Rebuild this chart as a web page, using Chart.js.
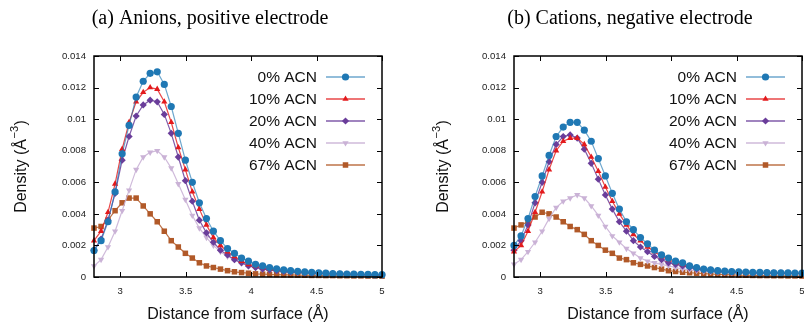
<!DOCTYPE html>
<html>
<head>
<meta charset="utf-8">
<script src="https://cdn.jsdelivr.net/npm/chart.js"></script>
<style>
  body { margin: 0; width: 804px; height: 323px; overflow: hidden; background: #fff; position: relative; }
  canvas { position: absolute; top: 0; }
  #chartA { left: 0; }
  #chartB { left: 420px; }
</style>
</head>
<body>
<canvas id="chartA" width="400" height="323"></canvas>
<canvas id="chartB" width="400" height="323"></canvas>
<script>
// ── DATA ──
const distances = [2.8, 2.854, 2.907, 2.961, 3.015, 3.068, 3.122, 3.176, 3.229, 3.283, 3.337, 3.39, 3.444, 3.498,
  3.551, 3.605, 3.659, 3.712, 3.766, 3.82, 3.873, 3.927, 3.98, 4.034, 4.088, 4.141, 4.195, 4.249, 4.302, 4.356,
  4.41, 4.463, 4.517, 4.571, 4.624, 4.678, 4.732, 4.785, 4.839, 4.893, 4.946, 5.0];

const seriesLabels = ['0% ACN', '10% ACN', '20% ACN', '40% ACN', '67% ACN'];
const xTicks = [3, 3.5, 4, 4.5, 5];
const yTicks = [0, 0.002, 0.004, 0.006, 0.008, 0.01, 0.012, 0.014];
const titleA = '(a) Anions, positive electrode';
const titleB = '(b) Cations, negative electrode';

// (a) anions, positive electrode
const anion0 = [0.00168, 0.0023, 0.0035, 0.0054, 0.0078, 0.0096, 0.0114, 0.0124, 0.0129, 0.0130, 0.0122, 0.0108, 0.0091, 0.0074,
  0.0060, 0.0047, 0.0037, 0.0029, 0.0023, 0.0018, 0.0015, 0.0012, 0.0010, 0.0008, 0.0007, 0.0006, 0.00052, 0.00045, 0.0004, 0.00036,
  0.00032, 0.0003, 0.00027, 0.00024, 0.00022, 0.0002, 0.00019, 0.00018, 0.00017, 0.00016, 0.00015, 0.00015];
const anion10 = [0.0023, 0.0029, 0.0041, 0.0059, 0.0081, 0.0098, 0.0111, 0.0117, 0.0120, 0.0119, 0.0111, 0.0098, 0.0082, 0.0068,
  0.0054, 0.0043, 0.0033, 0.0025, 0.0020, 0.0016, 0.0013, 0.0010, 0.0008, 0.0007, 0.0006, 0.0005, 0.00045, 0.0004, 0.00035, 0.00032,
  0.0003, 0.00027, 0.00025, 0.00023, 0.00021, 0.0002, 0.00018, 0.00017, 0.00016, 0.00015, 0.00014, 0.00013];
const anion20 = [0.0017, 0.0024, 0.0036, 0.0053, 0.0074, 0.0089, 0.0102, 0.0109, 0.0112, 0.0111, 0.0103, 0.0091, 0.0076, 0.0061,
  0.0048, 0.0036, 0.0028, 0.0022, 0.0017, 0.0014, 0.0011, 0.0009, 0.0007, 0.0006, 0.0005, 0.00045, 0.0004, 0.00035, 0.00032, 0.0003,
  0.00027, 0.00025, 0.00023, 0.00021, 0.0002, 0.00019, 0.00017, 0.00016, 0.00015, 0.00014, 0.00013, 0.00013];
const anion40 = [0.0007, 0.0011, 0.0019, 0.0029, 0.0042, 0.0055, 0.0068, 0.0076, 0.0079, 0.0080, 0.0076, 0.0069, 0.0059, 0.0049,
  0.0039, 0.0031, 0.0025, 0.0020, 0.0016, 0.0013, 0.0011, 0.0009, 0.0007, 0.0006, 0.0005, 0.00045, 0.0004, 0.00035, 0.00031, 0.00028,
  0.00025, 0.00023, 0.00021, 0.0002, 0.00018, 0.00017, 0.00016, 0.00015, 0.00014, 0.00013, 0.00012, 0.00012];
const anion67 = [0.0031, 0.0032, 0.0036, 0.0042, 0.0047, 0.0050, 0.0050, 0.0045, 0.0040, 0.0035, 0.0029, 0.0023, 0.0019, 0.0015,
  0.0012, 0.0009, 0.0007, 0.0006, 0.0005, 0.0004, 0.00033, 0.00028, 0.00024, 0.0002, 0.00018, 0.00016, 0.00015, 0.00014, 0.00013, 0.00012,
  0.00011, 0.0001, 0.0001, 0.00009, 0.00009, 0.00008, 0.00008, 0.00007, 0.00007, 0.00006, 0.00006, 0.00005];

// (b) cations, negative electrode
const cation0 = [0.0020, 0.0026, 0.0037, 0.0051, 0.0064, 0.0077, 0.0089, 0.0095, 0.0098, 0.0098, 0.0093, 0.0086, 0.0075, 0.0064,
  0.0053, 0.0043, 0.0035, 0.0030, 0.0025, 0.0021, 0.0017, 0.0014, 0.0012, 0.0010, 0.0009, 0.0007, 0.0006, 0.0005, 0.00045, 0.0004,
  0.00037, 0.00035, 0.00033, 0.00031, 0.0003, 0.00029, 0.00028, 0.00027, 0.00026, 0.00026, 0.00025, 0.00025];
const cation10 = [0.0016, 0.0020, 0.0029, 0.0041, 0.0054, 0.0068, 0.0080, 0.0086, 0.0088, 0.0088, 0.0084, 0.0076, 0.0067, 0.0057,
  0.0048, 0.0040, 0.0033, 0.0027, 0.0023, 0.0019, 0.0016, 0.0013, 0.0011, 0.0009, 0.0008, 0.0007, 0.0006, 0.0005, 0.00045, 0.0004,
  0.00036, 0.00033, 0.00031, 0.0003, 0.00028, 0.00027, 0.00026, 0.00025, 0.00024, 0.00024, 0.00023, 0.00023];
const cation20 = [0.0017, 0.0023, 0.0033, 0.0047, 0.0060, 0.0073, 0.0084, 0.0089, 0.0090, 0.0088, 0.0081, 0.0072, 0.0062, 0.0052,
  0.0043, 0.0035, 0.0029, 0.0023, 0.0019, 0.0016, 0.0013, 0.0011, 0.0009, 0.0008, 0.0007, 0.0006, 0.0005, 0.00045, 0.0004, 0.00036,
  0.00033, 0.00031, 0.00029, 0.00028, 0.00027, 0.00026, 0.00025, 0.00024, 0.00024, 0.00023, 0.00023, 0.00022];
const cation40 = [0.0008, 0.0011, 0.0016, 0.0022, 0.0029, 0.0037, 0.0044, 0.0048, 0.0050, 0.0052, 0.0050, 0.0045, 0.0039, 0.0032,
  0.0026, 0.0022, 0.0018, 0.0015, 0.0012, 0.0010, 0.0009, 0.0008, 0.0007, 0.0006, 0.0005, 0.00045, 0.0004, 0.00036, 0.00033, 0.0003,
  0.00028, 0.00026, 0.00025, 0.00024, 0.00023, 0.00022, 0.00022, 0.00021, 0.00021, 0.0002, 0.0002, 0.0002];
const cation67 = [0.0031, 0.0033, 0.0035, 0.0038, 0.0041, 0.0040, 0.0038, 0.0035, 0.0032, 0.0030, 0.0027, 0.0023, 0.0020, 0.0017,
  0.0015, 0.0012, 0.0011, 0.0009, 0.0008, 0.0007, 0.0006, 0.0005, 0.0004, 0.00035, 0.0003, 0.00027, 0.00024, 0.00021, 0.00019, 0.00017,
  0.00015, 0.00014, 0.00012, 0.00011, 0.0001, 0.00009, 0.00009, 0.00008, 0.00008, 0.00007, 0.00007, 0.00006];

// ── STYLES ──
const colors = ['#1f78b4', '#e31a1c', '#6a3d9a', '#cab2d6', '#b15928'];
const lineColors = ['rgba(31,120,180,0.65)', 'rgba(227,26,28,0.8)', 'rgba(106,61,154,0.85)', 'rgba(202,178,214,0.9)', 'rgba(177,89,40,0.85)'];
const markers = [
  { pointStyle: 'circle', radius: 3.6, rotation: 0 },
  { pointStyle: 'triangle', radius: 3.6, rotation: 0 },
  { pointStyle: 'rectRot', radius: 3.6, rotation: 0 },
  { pointStyle: 'triangle', radius: 3.6, rotation: 180 },
  { pointStyle: 'rect', radius: 3.9, rotation: 0 },
];
const SANS = '"Liberation Sans", Arial, sans-serif';
const SERIF = '"Liberation Serif", "Times New Roman", serif';

function makeDatasets(seriesList) {
  return seriesList.map((vals, i) => ({
    label: seriesLabels[i],
    data: distances.map((x, k) => ({ x, y: vals[k] })),
    borderColor: lineColors[i],
    borderWidth: 1.2,
    pointBackgroundColor: colors[i],
    pointBorderColor: colors[i],
    pointBorderWidth: 0,
    pointRadius: markers[i].radius,
    pointStyle: markers[i].pointStyle,
    pointRotation: markers[i].rotation,
    tension: 0,
    fill: false,
    clip: false,
  }));
}

// ── FRAME, TITLES, LEGEND ──
const decorPlugin = {
  id: 'decor',
  afterDatasetsDraw(chart, args, opts) {
    const ctx = chart.ctx;
    const a = chart.chartArea;
    const xs = chart.scales.x, ys = chart.scales.y;
    ctx.save();

    // legend (text left of sample)
    chart.data.datasets.forEach((ds, i) => {
      const y = 77 + 22 * i;
      ctx.font = '15.5px ' + SANS;
      ctx.fillStyle = '#111';
      ctx.textAlign = 'right';
      ctx.textBaseline = 'middle';
      ctx.fillText(ds.label, a.left + 223, y + 1);
      ctx.strokeStyle = lineColors[i];
      ctx.lineWidth = 1.6;
      ctx.beginPath();
      ctx.moveTo(a.left + 232, y);
      ctx.lineTo(a.left + 271, y);
      ctx.stroke();
      ctx.fillStyle = colors[i];
      ctx.strokeStyle = colors[i];
      Chart.helpers.drawPoint(ctx, {
        pointStyle: markers[i].pointStyle,
        radius: markers[i].radius,
        rotation: markers[i].rotation,
        borderWidth: 0,
      }, a.left + 251.5, y);
    });

    // frame with inward ticks
    ctx.strokeStyle = '#000';
    ctx.lineWidth = 1.5;
    ctx.strokeRect(a.left, a.top, a.right - a.left, a.bottom - a.top);
    ctx.lineWidth = 1;
    ctx.beginPath();
    xTicks.forEach(v => {
      const px = Math.round(xs.getPixelForValue(v)) + 0.5;
      ctx.moveTo(px, a.bottom); ctx.lineTo(px, a.bottom - 5);
      ctx.moveTo(px, a.top); ctx.lineTo(px, a.top + 5);
    });
    yTicks.forEach(v => {
      const py = Math.round(ys.getPixelForValue(v)) + 0.5;
      ctx.moveTo(a.left, py); ctx.lineTo(a.left + 5, py);
      ctx.moveTo(a.right, py); ctx.lineTo(a.right - 5, py);
    });
    ctx.stroke();

    // panel title
    ctx.fillStyle = '#000';
    ctx.font = '20px ' + SERIF;
    ctx.textAlign = 'center';
    ctx.textBaseline = 'alphabetic';
    ctx.fillText(opts.title, 210, 24);

    // x axis title
    ctx.font = '16px ' + SANS;
    ctx.fillStyle = '#111';
    ctx.fillText('Distance from surface (Å)', (a.left + a.right) / 2, 319);

    // y axis title with superscript
    ctx.translate(opts.yTitleX, (a.top + a.bottom) / 2);
    ctx.rotate(-Math.PI / 2);
    const big = '16px ' + SANS, small = '11px ' + SANS;
    const p1 = 'Density (Å', p2 = '\u22123', p3 = ')';
    ctx.font = big; const w1 = ctx.measureText(p1).width; const w3 = ctx.measureText(p3).width;
    ctx.font = small; const w2 = ctx.measureText(p2).width;
    let x0 = -(w1 + w2 + w3 + 1) / 2;
    ctx.textAlign = 'left';
    ctx.textBaseline = 'alphabetic';
    ctx.font = big; ctx.fillText(p1, x0, 6);
    ctx.font = small; ctx.fillText(p2, x0 + w1 + 0.5, -2);
    ctx.font = big; ctx.fillText(p3, x0 + w1 + w2 + 1, 6);

    ctx.restore();
  }
};

function buildChart(canvasId, seriesList, title, yTitleX) {
  const tickFont = { family: SANS, size: 9.6 };
  return new Chart(document.getElementById(canvasId), {
    type: 'line',
    data: { datasets: makeDatasets(seriesList) },
    options: {
      responsive: false,
      animation: false,
      layout: { padding: { top: 56, right: 18, left: 0, bottom: 0 } },
      plugins: {
        legend: { display: false },
        tooltip: { enabled: false },
        decor: { title, yTitleX },
      },
      scales: {
        x: {
          type: 'linear', min: 2.8, max: 5,
          afterBuildTicks: s => { s.ticks = xTicks.map(v => ({ value: v })); },
          afterFit: s => { s.height = 46; },
          grid: { display: false, drawTicks: false },
          border: { display: false },
          ticks: { font: tickFont, color: '#222', padding: 9, maxRotation: 0, autoSkip: false,
            callback: v => String(v) },
        },
        y: {
          type: 'linear', min: 0, max: 0.014,
          afterBuildTicks: s => { s.ticks = yTicks.map(v => ({ value: v })); },
          afterFit: s => { s.width = 94; },
          grid: { display: false, drawTicks: false },
          border: { display: false },
          ticks: { font: tickFont, color: '#222', padding: 8, autoSkip: false,
            callback: v => String(parseFloat(v.toFixed(3))) },
        },
      },
    },
    plugins: [decorPlugin],
  });
}

buildChart('chartA', [anion0, anion10, anion20, anion40, anion67], titleA, 20);
buildChart('chartB', [cation0, cation10, cation20, cation40, cation67], titleB, 21.5);
</script>
</body>
</html>
